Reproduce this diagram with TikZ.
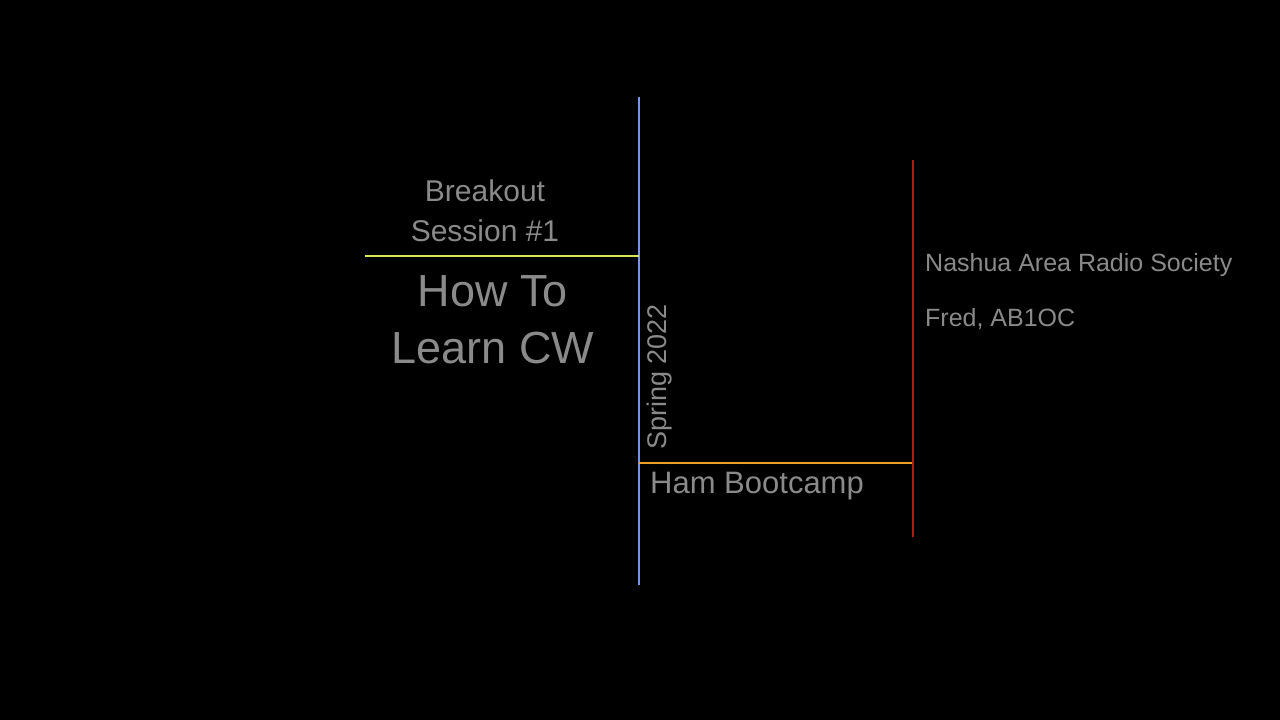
\documentclass[tikz,border=0pt]{standalone}
\usepackage{fontspec}
\setmainfont{Liberation Sans}
\definecolor{tx}{HTML}{8A8A8A}
\begin{document}
\begin{tikzpicture}[x=1pt,y=-1pt,
  lbl/.style={text=tx,inner sep=0pt},
  ln/.style={line width=1.3pt}]
\fill[black] (0,0) rectangle (1280,720);
\useasboundingbox (0,0) rectangle (1280,720);
\coordinate (bt) at (639,97); \coordinate (bb) at (639,585);
\coordinate (yl) at (365,256); \coordinate (yr) at (639,256);
\coordinate (ol) at (639,463); \coordinate (or) at (913,463);
\coordinate (rt) at (913,160); \coordinate (rb) at (913,537);
\draw[ln,color={rgb,255:red,120;green,150;blue,230}] (bt) -- (bb);
\draw[ln,color={rgb,255:red,220;green,230;blue,90}] (yl) -- (yr);
\draw[ln,color={rgb,255:red,235;green,160;blue,40}] (ol) -- (or);
\draw[ln,color={rgb,255:red,170;green,30;blue,20}] (rt) -- (rb);
\node[lbl,font=\fontsize{30}{40}\selectfont,align=center] (bs) at (485,211) {Breakout\\Session \#1};
\node[lbl,font=\fontsize{45}{57}\selectfont,align=center] (ht) at (493,320) {How To\\Learn CW};
\node[lbl,font=\fontsize{27}{30}\selectfont,rotate=90] (sp) at (660,377) {Spring 2022};
\node[lbl,font=\fontsize{31}{35}\selectfont,anchor=west] (hb) at (650,486) {Ham Bootcamp};
\node[lbl,font=\fontsize{25}{30}\selectfont,anchor=west] (na) at (925,265) {Nashua Area Radio Society};
\node[lbl,font=\fontsize{25}{30}\selectfont,anchor=west] (fr) at (925,319) {Fred, AB1OC};
\end{tikzpicture}
\end{document}
